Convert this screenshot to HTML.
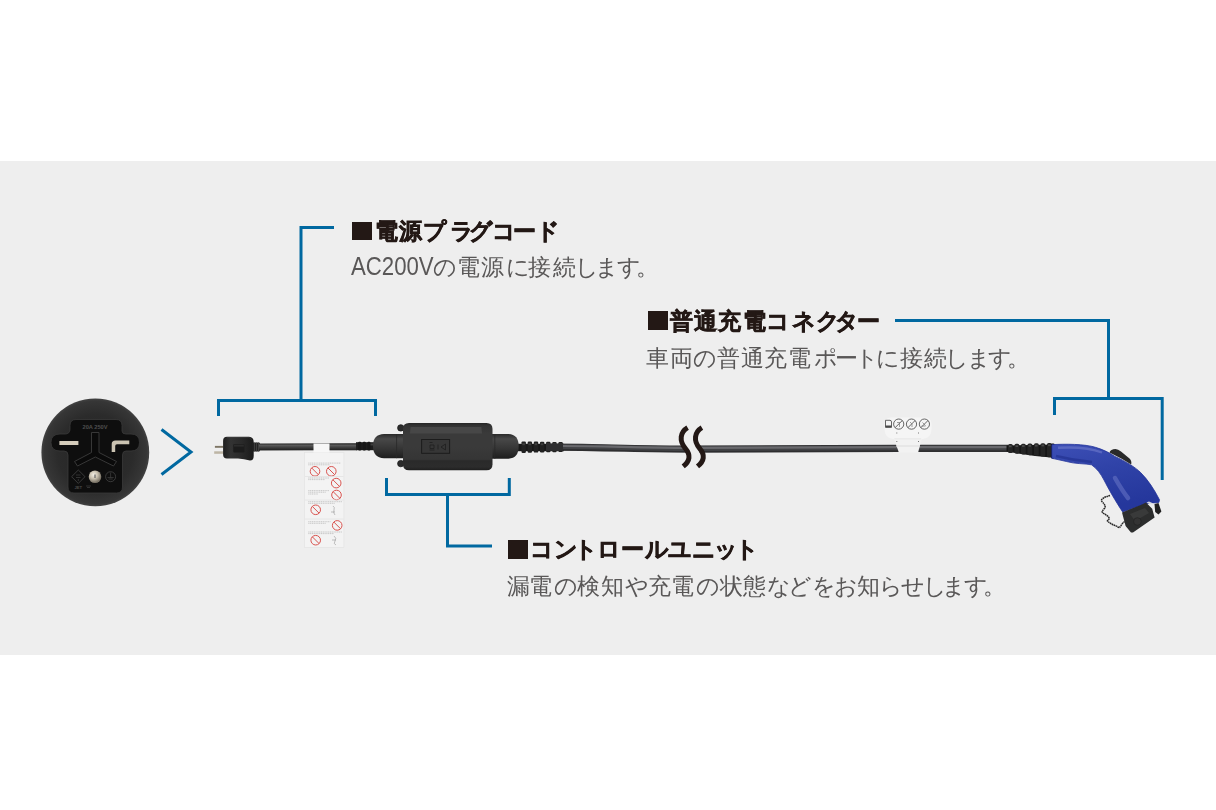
<!DOCTYPE html>
<html><head><meta charset="utf-8">
<style>
html,body{margin:0;padding:0;width:1216px;height:810px;overflow:hidden;background:#fff;}
#band{position:absolute;left:0;top:161px;width:1216px;height:494.25px;background:#eeeeee;}
svg{position:absolute;left:0;top:0;}
.t{position:absolute;font-family:"Liberation Sans",sans-serif;white-space:nowrap;font-size:23px;line-height:23px;}
.h{color:#231815;font-weight:bold;-webkit-text-stroke:0.6px #231815;}
.b{color:#595757;}
.sq{position:absolute;background:#231815;}
</style></head><body>
<div id="band"></div>
<svg width="1216" height="810" viewBox="0 0 1216 810">
  <defs>
    <radialGradient id="gCirc" cx="0.5" cy="0.5" r="0.5">
      <stop offset="0" stop-color="#242424"/>
      <stop offset="0.7" stop-color="#2b2b2b"/>
      <stop offset="0.95" stop-color="#363636"/>
      <stop offset="1" stop-color="#424242"/>
    </radialGradient>
    <radialGradient id="gRivet" cx="0.4" cy="0.35" r="0.6">
      <stop offset="0" stop-color="#f4f0e6"/>
      <stop offset="0.5" stop-color="#c9c1b0"/>
      <stop offset="1" stop-color="#7d7669"/>
    </radialGradient>
    <linearGradient id="gPlug" x1="0" y1="0" x2="1" y2="0">
      <stop offset="0" stop-color="#1e1e1e"/>
      <stop offset="0.25" stop-color="#333"/>
      <stop offset="0.6" stop-color="#2a2a2a"/>
      <stop offset="1" stop-color="#1a1a1a"/>
    </linearGradient>
    <linearGradient id="gCable" x1="0" y1="0" x2="0" y2="1">
      <stop offset="0" stop-color="#2c2c2c"/>
      <stop offset="0.25" stop-color="#5a5a5a"/>
      <stop offset="0.5" stop-color="#444"/>
      <stop offset="1" stop-color="#1e1e1e"/>
    </linearGradient>
    <linearGradient id="gBody" x1="0" y1="0" x2="0" y2="1">
      <stop offset="0" stop-color="#262626"/>
      <stop offset="0.06" stop-color="#333"/>
      <stop offset="0.22" stop-color="#3a3a3a"/>
      <stop offset="0.5" stop-color="#3a3a3a"/>
      <stop offset="0.77" stop-color="#353535"/>
      <stop offset="0.8" stop-color="#2a2a2a"/>
      <stop offset="0.93" stop-color="#2c2c2c"/>
      <stop offset="1" stop-color="#1e1e1e"/>
    </linearGradient>
    <linearGradient id="gCap" x1="0" y1="0" x2="0" y2="1">
      <stop offset="0" stop-color="#2a2a2a"/>
      <stop offset="0.2" stop-color="#484848"/>
      <stop offset="0.6" stop-color="#353535"/>
      <stop offset="1" stop-color="#1d1d1d"/>
    </linearGradient>
    <linearGradient id="gBlue" x1="0" y1="0" x2="0.35" y2="1">
      <stop offset="0" stop-color="#3d4fb6"/>
      <stop offset="0.45" stop-color="#3043a8"/>
      <stop offset="1" stop-color="#25379c"/>
    </linearGradient>
  </defs>
  <!-- A: round socket view -->
  <g>
    <circle cx="95.3" cy="452.4" r="53.9" fill="url(#gCirc)"/>
    <path d="M76 419.5 H116 Q122 419.5 122 425.5 V431 Q122 434 126 434 H131 Q139.5 434 139.5 442.5 Q139.5 451 131 451 H126 Q122.5 451 122.5 455 V487 Q122.5 493 116.5 493 H74 Q68 493 68 487 V455 Q68 451 64 451 H60 Q51 451 51 442.5 Q51 434 60 434 H65 Q70 434 70 429 V425.5 Q70 419.5 76 419.5 Z" fill="#0e0e0e" stroke="#3a3a3a" stroke-width="0.8"/>
    <rect x="59.4" y="441" width="19" height="4" fill="#d4ccbb"/>
    <path d="M111.7 452 V444 Q111.7 440.5 115.5 440.5 H129.3 V444.3 H117 Q115.2 444.3 115.2 446 V452 Z" fill="#cbc3b2"/>
    <path d="M91.5 432.5 H99 V452.5 L116.5 461.5 L113.5 466 L95.3 457 L77.5 466 L74.5 461.5 L91.5 452.5 Z" fill="#0a0a0a" stroke="#3c3c3c" stroke-width="0.9"/>
    <circle cx="95" cy="476.7" r="6.3" fill="url(#gRivet)"/>
    <rect x="94.4" y="474.5" width="1.2" height="3.5" fill="#666"/>
    <text x="95" y="429.2" font-family="Liberation Sans" font-size="5" font-weight="bold" fill="#4e4e4e" text-anchor="middle" textLength="25" lengthAdjust="spacingAndGlyphs">20A 250V</text>
    <path d="M78.3 470 L85 476.7 L78.3 483.4 L71.6 476.7 Z" fill="none" stroke="#4a4a4a" stroke-width="0.7"/><path d="M76 475 h4.5 M76 477.5 h4.5 M78.3 479 v2" stroke="#4a4a4a" stroke-width="0.6"/>
    <circle cx="110.6" cy="476.7" r="5" fill="none" stroke="#4a4a4a" stroke-width="0.7"/>
    <path d="M110.6 472.5 V477.5 M107.5 477.5 H113.7 M108.5 479 H112.7" stroke="#4a4a4a" stroke-width="0.6"/>
    <text x="78.3" y="488.5" font-family="Liberation Sans" font-size="4.2" font-weight="bold" fill="#4a4a4a" text-anchor="middle">JET</text><path d="M86 486 h5 M87 487.5 h3" stroke="#4a4a4a" stroke-width="0.6"/>
  </g>
  <!-- B: small plug + cable -->
  <g>
    <rect x="214.9" y="445.9" width="8.5" height="1.9" fill="#7f7766"/>
    <rect x="214.2" y="451.3" width="9.2" height="2.5" fill="#bdb5a5"/>
    <path d="M227 436.8 H249 Q253.7 437 253.7 442 V456 Q253.7 460.5 250 460.5 Q244 459.2 238 458.6 H227 Q223.1 458.6 223.1 454.6 V440.8 Q223.1 436.8 227 436.8 Z" fill="url(#gPlug)"/>
    <path d="M227 437.5 H249 Q251 437.8 251.5 440" stroke="#444" stroke-width="0.8" fill="none" opacity="0.6"/>
    <rect x="233.3" y="444.1" width="11.2" height="8.5" rx="1" fill="#1c1c1c"/>
    <rect x="234" y="444.6" width="9.8" height="2" fill="#2c2c2c"/>
    <g fill="#222">
      <rect x="252.4" y="442.4" width="7.5" height="9.2" rx="1"/>
    </g>
    <g stroke="#444" stroke-width="0.8">
      <path d="M254.5 442.6 V451.4 M256.5 442.6 V451.4 M258.5 442.6 V451.4"/>
    </g>
    <path d="M259 447 L357 446.5" stroke="url(#gCable)" stroke-width="6.6" fill="none"/>
    <rect x="259" y="443.7" width="98" height="6.6" fill="url(#gCable)"/>
  </g>


  <!-- hanging tag -->
  <g>
    <rect x="304.6" y="452.5" width="39.3" height="95" fill="#f3f3f3"/>
    <rect x="304.6" y="452.5" width="39.3" height="95" fill="none" stroke="#e2e2e2" stroke-width="0.6"/>
    <rect x="313.5" y="443.5" width="16" height="9" fill="#f7f7f7"/>
    <g fill="none" stroke="#d9534f" stroke-width="1">
      <circle cx="315" cy="471.3" r="4.8"/><path d="M311.6 467.9 L318.4 474.7"/>
      <circle cx="331.3" cy="471.3" r="4.8"/><path d="M327.9 467.9 L334.7 474.7"/>
      <circle cx="336.2" cy="483.1" r="4.8"/><path d="M332.8 479.7 L339.6 486.5"/>
      <circle cx="336.5" cy="495" r="4.8"/><path d="M333.1 491.6 L339.9 498.4"/>
      <circle cx="315.7" cy="509.8" r="4.8"/><path d="M312.3 506.4 L319.1 513.2"/>
      <circle cx="337.2" cy="525.4" r="4.8"/><path d="M333.8 522 L340.6 528.8"/>
      <circle cx="315.7" cy="540.2" r="4.8"/><path d="M312.3 536.8 L319.1 543.6"/>
    </g>
    <g stroke="#aaa" stroke-width="0.6" stroke-dasharray="1.2 0.6">
      <path d="M308.3 463.1 H340.9 M308.3 464.8 H330 M308.3 478 H329 M308.3 479.6 H325 M308.3 490.6 H329 M308.3 492.2 H326 M308.3 494 H318 M308.3 501.7 H342 M308.3 503.3 H335 M308.3 521.7 H330.5 M308.3 523.3 H326 M308.3 532 H342 M308.3 533.6 H334"/>
    </g>
    <g stroke="#e2e2e2" stroke-width="0.8"><path d="M305 476.5 H343.5 M305 500 H343.5 M305 519 H343.5"/></g>
    <g stroke="#999" stroke-width="0.6" fill="none">
      <path d="M333 506 q2 1 1 4 q-1 3 1 5 M331 512 h4 M334 536 q3 2 1 5 q-2 3 1 4 M332 540 h4"/>
    </g>
  </g>
  <!-- C: control unit -->
  <g>
    <rect x="356" y="442.2" width="18" height="8" fill="#1c1c1c"/>
    <g fill="#161616"><rect x="358.2" y="441.7" width="3" height="8.9" rx="1"/><rect x="362.8" y="441.7" width="3" height="8.9" rx="1"/><rect x="367.4" y="441.7" width="3" height="8.9" rx="1"/></g>
    <rect x="370.5" y="443.5" width="3" height="2" fill="#555" opacity="0.6"/>
    <path d="M405 434.1 H384 Q373 434.5 373 446 Q373 457.8 384 458.2 H405 Z" fill="url(#gCap)"/>
    <path d="M396.6 434.1 V458.2" stroke="#2a2a2a" stroke-width="0.8"/>
    <rect x="518" y="443.8" width="46" height="7.4" fill="#181818"/>
    <g fill="#202020"><rect x="521.50" y="441.40" width="4.4" height="11.50" rx="1.2"/><rect x="527.65" y="441.50" width="4.4" height="11.25" rx="1.2"/><rect x="533.80" y="441.60" width="4.4" height="11.00" rx="1.2"/><rect x="539.95" y="441.70" width="4.4" height="10.75" rx="1.2"/><rect x="546.10" y="441.80" width="4.4" height="10.50" rx="1.2"/><rect x="552.25" y="441.90" width="4.4" height="10.25" rx="1.2"/><rect x="558.40" y="442.00" width="4.4" height="10.00" rx="1.2"/></g>
    <g fill="#4a4a4a" opacity="0.7"><rect x="522.30" y="443.20" width="2.6" height="2" /><rect x="528.45" y="443.20" width="2.6" height="2" /><rect x="534.60" y="443.20" width="2.6" height="2" /><rect x="540.75" y="443.20" width="2.6" height="2" /><rect x="546.90" y="443.20" width="2.6" height="2" /><rect x="553.05" y="443.20" width="2.6" height="2" /><rect x="559.20" y="443.20" width="2.6" height="2" /></g>
    <path d="M485 434 H508.5 Q518.7 434.5 518.7 446.3 Q518.7 458.2 508.5 458.7 H485 Z" fill="url(#gCap)"/>
    <path d="M494.8 434 V458.7" stroke="#2a2a2a" stroke-width="0.8"/>
    <circle cx="400.8" cy="427.9" r="3.2" fill="#2b2b2b" stroke="#1c1c1c" stroke-width="0.8"/>
    <circle cx="400.8" cy="463.6" r="3.2" fill="#2b2b2b" stroke="#1c1c1c" stroke-width="0.8"/>
    <path d="M409 423 H486.5 Q492.5 423 492.5 429 V464.2 Q492.5 470.2 486.5 470.2 H409 Q403 470.2 403 464.2 V429 Q403 423 409 423 Z" fill="url(#gBody)"/>
    <path d="M410.5 427.1 H481.4 L482 433.6 H410 Z" fill="#4a4a4a" opacity="0.85"/>
    <rect x="421.6" y="439.5" width="28" height="13.8" fill="#363636" stroke="#1c1c1c" stroke-width="1"/>
    <g stroke="#1e1e1e" stroke-width="0.8" fill="none"><path d="M429.5 442.5 h3 M430 445 h4 v3.5 h-4 z M429.5 450 h5 M438 444.5 v5 M441 447 l4.5 -3 v6 z"/></g>
  </g>
  <!-- D: long cable -->
  <g fill="none" stroke-linecap="butt">
    <path id="cab" d="M546 447.2 C 610 447.5, 640 449, 690 449.1 C 740 449.1, 800 448.3, 900 448.3 S 990 448.3, 1008 448.3" stroke="#2e2e30" stroke-width="7.2"/>
    <path d="M563 446.7 C 610 447, 640 448.5, 690 448.6 C 740 448.6, 800 447.8, 900 447.8 S 990 447.8, 1008 447.8" stroke="#414245" stroke-width="4.8"/>
    <path d="M563 446 C 610 446.3, 640 447.8, 690 447.9 C 740 447.9, 800 447.1, 900 447.1 S 990 447.1, 1008 447.1" stroke="#69696d" stroke-width="2.2"/>
  </g>
  <!-- squiggle gap -->
  <rect x="686" y="440" width="13.5" height="15" fill="#eeeeee"/>
  <!-- E: cable tag -->
  <g>
    <path d="M891 417.5 H925 Q931.5 417.5 931.5 424 V429 Q931.5 439.5 918 439.5 H898 Q884.5 439.5 884.5 429 V424 Q884.5 417.5 891 417.5 Z" fill="#f5f5f5"/>
    <path d="M893.7 438.3 H921.9 L918.1 452.4 H898.9 Z" fill="#f2f2f2"/>
    <path d="M896 446 H920" stroke="#dcdcdc" stroke-width="1"/>
    <path d="M894.5 438.8 H921" stroke="#e4e4e4" stroke-width="0.8"/>
    <g fill="#777"><rect x="896.3" y="432.5" width="1" height="1"/><rect x="918" y="432.5" width="1" height="1"/><rect x="896.3" y="441" width="1" height="1"/><rect x="918" y="441" width="1" height="1"/></g>
    <g fill="none" stroke="#4a4a4a" stroke-width="0.85">
      <path d="M885.5 420.3 H890 Q891.5 420.3 891.5 422 V427.3 H885.5 Z"/>
      <circle cx="898.7" cy="424.1" r="5.1"/><path d="M895.2 427.6 L902.2 420.6"/>
      <circle cx="911.5" cy="424.1" r="5.1"/><path d="M908 427.6 L915 420.6"/>
      <circle cx="924.4" cy="424.1" r="5.1"/><path d="M920.9 427.6 L927.9 420.6"/>
    </g>
    <rect x="885.5" y="425.5" width="6" height="2" fill="#4a4a4a"/>
    <g stroke="#777" stroke-width="0.7" fill="none">
      <path d="M897 422.5 h3 M899.5 423 v4 M910 422 l2 2 v3 M922.5 422.5 l3 3 M921.5 426 h4"/>
    </g>
  </g>
  <!-- F: connector -->
  <g>
    <path d="M1006.5 445.5 L1053.8 444.6 L1053.8 457.8 Q1030 456 1006.5 451.5 Z" fill="#161616"/>
    <g fill="#242424"><rect x="1008.00" y="444.00" width="4.8" height="9.00" rx="1.6"/><rect x="1014.50" y="443.83" width="4.8" height="9.88" rx="1.6"/><rect x="1021.00" y="443.66" width="4.8" height="10.76" rx="1.6"/><rect x="1027.50" y="443.49" width="4.8" height="11.64" rx="1.6"/><rect x="1034.00" y="443.32" width="4.8" height="12.52" rx="1.6"/><rect x="1040.50" y="443.15" width="4.8" height="13.40" rx="1.6"/><rect x="1047.00" y="442.98" width="4.8" height="14.28" rx="1.6"/></g>
    <g fill="#555" opacity="0.8"><rect x="1009.00" y="445.40" width="2.6" height="1.8"/><rect x="1015.50" y="445.23" width="2.6" height="1.8"/><rect x="1022.00" y="445.06" width="2.6" height="1.8"/><rect x="1028.50" y="444.89" width="2.6" height="1.8"/><rect x="1035.00" y="444.72" width="2.6" height="1.8"/><rect x="1041.50" y="444.55" width="2.6" height="1.8"/><rect x="1048.00" y="444.38" width="2.6" height="1.8"/></g>
    <rect x="1051" y="443.6" width="3.5" height="15" rx="1" fill="#111"/>
    <path d="M1051.9 444.7 C 1065 443.8, 1085 444, 1095.4 447.3 C 1103 449.5, 1110 453, 1114.8 456.4 C 1125 461, 1135 467, 1140.7 472.6 C 1148 480, 1154 489, 1159.5 499.8 L1158.9 502.4 L1145.9 503.7 L1122.6 511.9 C 1116 502, 1108 488, 1104 480 C 1100.5 473.5, 1097 468.5, 1091.5 464.8 C 1085 463.5, 1075 464, 1066.8 461.6 C 1060 460, 1055 459, 1051.9 458.3 Z" fill="url(#gBlue)" stroke="#23349a" stroke-width="0.8"/>
    <path d="M1058 447.8 C 1075 446.8, 1090 447.8, 1102 452.5" stroke="#6674c8" stroke-width="2.4" fill="none" opacity="0.7"/>
    <path d="M1056 456 C 1068 459, 1080 461, 1092 462" stroke="#1f2e8c" stroke-width="2.5" fill="none" opacity="0.6"/>
    <path d="M1115 478 C 1119 485, 1124 493, 1128 498" stroke="#6a76c6" stroke-width="4.5" fill="none" opacity="0.55" stroke-linecap="round"/>
    <path d="M1109.5 452.5 Q1110.5 449 1115.5 449 Q1118 449 1121 451.5 L1129.5 458.5 Q1132 461 1131.2 464.5 Q1122 458.5 1109.5 452.5 Z" fill="#2a2a2a"/>
    <path d="M1122 512.5 L1141.9 504.4 L1146 502.5 L1152.2 508.8 L1154.6 517.5 L1133 532.6 L1131 532.6 L1125.6 525.9 Z" fill="#2c2d2d"/>
    <path d="M1130 514 L1145 508 L1149 513 L1135 521 Z" fill="#454646" opacity="0.55"/>
    <circle cx="1137.4" cy="521.5" r="3.8" fill="#333" stroke="#222" stroke-width="0.7"/>
    <path d="M1146.5 502.6 L1153 506 L1155 504.2 L1149 501.5 Z" fill="#e8e8e8" opacity="0.9"/>
    <path d="M1154.5 504 L1158.5 503 L1161.4 511.5 L1158.5 514.5 L1155.2 512 Z" fill="#202020"/>
    <path d="M1110 495.6 C 1104 497, 1100 499.5, 1101.9 501.5 C 1104 503.5, 1106 506, 1104.8 508.1 C 1103 510, 1101.5 511.5, 1102.6 512.6 C 1104 514, 1109 516, 1109.3 518.5 C 1109 520, 1106.5 520.5, 1107.8 521.5 C 1110 523, 1113 525, 1115.9 525.9 C 1117.5 526.5, 1119 528, 1119.6 527.4 C 1121 526, 1122.5 522.5, 1124.8 521.5" stroke="#262626" stroke-width="1.5" fill="none" stroke-dasharray="1.6 0.5"/>
  </g>
  <g fill="none" stroke="#231815" stroke-width="5" stroke-linecap="butt">
    <path d="M687.6 427.6 C 680 432, 679 441, 685.3 448.3 C 691 455, 690 461, 683.2 466.4"/>
    <path d="M701.9 427.6 C 694.3 432, 693.3 441, 699.6 448.3 C 705.3 455, 704.3 461, 697.5 466.4"/>
  </g>
  <g fill="none" stroke="#0068a0" stroke-width="3">
    <!-- bracket 1 -->
    <path d="M334 227.5 H301 V400.5"/>
    <path d="M218.5 416 V400.5 H375.5 V416"/>
    <!-- bracket 2 -->
    <path d="M895 320.5 H1108.5 V398.5"/>
    <path d="M1054.5 415 V398.5 H1162.2 V480"/>
    <!-- bracket 3 -->
    <path d="M386.5 478 V494.5 H509.3 V478"/>
    <path d="M447.5 494.5 V546 H492"/>
    <!-- chevron -->
    <path d="M161.5 429.5 L191 452 L161.5 474.5"/>
  </g>
</svg>
<div id="txt" style="position:absolute;left:0;top:0;width:1216px;height:810px;will-change:transform">
<div class="sq" style="left:352px;top:222px;width:20px;height:18px"></div>
<div class="sq" style="left:647.5px;top:311px;width:20px;height:19px"></div>
<div class="sq" style="left:508px;top:540.3px;width:20px;height:18.6px"></div>
<span class="t b" style="left:351px;top:254.2px;font-size:25.5px;line-height:25.5px;transform:scaleX(0.87);transform-origin:0 0">AC200V</span>
<span class="t h" style="left:375.1px;top:219.8px">電</span>
<span class="t h" style="left:398.8px;top:219.8px">源</span>
<span class="t h" style="left:423.2px;top:219.8px">プ</span>
<span class="t h" style="left:449.5px;top:219.8px">ラ</span>
<span class="t h" style="left:469.4px;top:219.8px">グ</span>
<span class="t h" style="left:492.2px;top:219.8px">コ</span>
<span class="t h" style="left:513.1px;top:219.8px">ー</span>
<span class="t h" style="left:536.1px;top:219.8px">ド</span>
<span class="t h" style="left:670.3px;top:310.0px">普</span>
<span class="t h" style="left:693.9px;top:310.0px">通</span>
<span class="t h" style="left:718.4px;top:310.0px">充</span>
<span class="t h" style="left:742.9px;top:310.0px">電</span>
<span class="t h" style="left:766.1px;top:310.0px">コ</span>
<span class="t h" style="left:791.5px;top:310.0px">ネ</span>
<span class="t h" style="left:815.5px;top:310.0px">ク</span>
<span class="t h" style="left:835.4px;top:310.0px">タ</span>
<span class="t h" style="left:857.4px;top:310.0px">ー</span>
<span class="t h" style="left:530.0px;top:538.3px">コ</span>
<span class="t h" style="left:553.5px;top:538.3px">ン</span>
<span class="t h" style="left:574.0px;top:538.3px">ト</span>
<span class="t h" style="left:597.1px;top:538.3px">ロ</span>
<span class="t h" style="left:621.3px;top:538.3px">ー</span>
<span class="t h" style="left:644.5px;top:538.3px">ル</span>
<span class="t h" style="left:668.2px;top:538.3px">ユ</span>
<span class="t h" style="left:692.4px;top:538.3px">ニ</span>
<span class="t h" style="left:713.7px;top:538.3px">ッ</span>
<span class="t h" style="left:734.8px;top:538.3px">ト</span>
<span class="t b" style="left:433.1px;top:256.3px">の</span>
<span class="t b" style="left:456.5px;top:256.3px">電</span>
<span class="t b" style="left:481.2px;top:256.3px">源</span>
<span class="t b" style="left:505.6px;top:256.3px">に</span>
<span class="t b" style="left:528.4px;top:256.3px">接</span>
<span class="t b" style="left:553.0px;top:256.3px">続</span>
<span class="t b" style="left:575.4px;top:256.3px">し</span>
<span class="t b" style="left:595.2px;top:256.3px">ま</span>
<span class="t b" style="left:617.2px;top:256.3px">す</span>
<span class="t b" style="left:635.7px;top:256.3px">。</span>
<span class="t b" style="left:645.8px;top:346.5px">車</span>
<span class="t b" style="left:669.5px;top:346.5px">両</span>
<span class="t b" style="left:692.9px;top:346.5px">の</span>
<span class="t b" style="left:716.9px;top:346.5px">普</span>
<span class="t b" style="left:740.5px;top:346.5px">通</span>
<span class="t b" style="left:763.7px;top:346.5px">充</span>
<span class="t b" style="left:787.6px;top:346.5px">電</span>
<span class="t b" style="left:813.8px;top:346.5px">ポ</span>
<span class="t b" style="left:835.2px;top:346.5px">ー</span>
<span class="t b" style="left:855.2px;top:346.5px">ト</span>
<span class="t b" style="left:875.5px;top:346.5px">に</span>
<span class="t b" style="left:899.5px;top:346.5px">接</span>
<span class="t b" style="left:924.4px;top:346.5px">続</span>
<span class="t b" style="left:945.3px;top:346.5px">し</span>
<span class="t b" style="left:966.6px;top:346.5px">ま</span>
<span class="t b" style="left:988.3px;top:346.5px">す</span>
<span class="t b" style="left:1007.3px;top:346.5px">。</span>
<span class="t b" style="left:506.5px;top:574.5px">漏</span>
<span class="t b" style="left:529.0px;top:574.5px">電</span>
<span class="t b" style="left:553.7px;top:574.5px">の</span>
<span class="t b" style="left:577.4px;top:574.5px">検</span>
<span class="t b" style="left:601.2px;top:574.5px">知</span>
<span class="t b" style="left:625.3px;top:574.5px">や</span>
<span class="t b" style="left:647.6px;top:574.5px">充</span>
<span class="t b" style="left:671.1px;top:574.5px">電</span>
<span class="t b" style="left:695.8px;top:574.5px">の</span>
<span class="t b" style="left:719.7px;top:574.5px">状</span>
<span class="t b" style="left:742.9px;top:574.5px">態</span>
<span class="t b" style="left:766.8px;top:574.5px">な</span>
<span class="t b" style="left:788.0px;top:574.5px">ど</span>
<span class="t b" style="left:812.0px;top:574.5px">を</span>
<span class="t b" style="left:833.5px;top:574.5px">お</span>
<span class="t b" style="left:857.2px;top:574.5px">知</span>
<span class="t b" style="left:879.4px;top:574.5px">ら</span>
<span class="t b" style="left:900.8px;top:574.5px">せ</span>
<span class="t b" style="left:922.5px;top:574.5px">し</span>
<span class="t b" style="left:942.4px;top:574.5px">ま</span>
<span class="t b" style="left:964.4px;top:574.5px">す</span>
<span class="t b" style="left:983.4px;top:574.5px">。</span>
</div>
</body></html>
